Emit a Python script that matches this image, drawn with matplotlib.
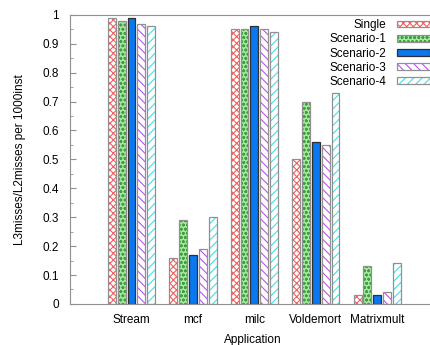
import matplotlib.pyplot as plt
import numpy as np
from matplotlib.ticker import MultipleLocator

plt.rcParams["font.family"] = ["Liberation Sans", "DejaVu Sans"]
plt.rcParams["hatch.linewidth"] = 0.8

apps = ["Stream", "mcf", "milc", "Voldemort", "Matrixmult"]
single = [0.99, 0.16, 0.95, 0.50, 0.03]
scen1 = [0.98, 0.29, 0.95, 0.70, 0.13]
scen2 = [0.99, 0.17, 0.96, 0.56, 0.03]
scen3 = [0.97, 0.19, 0.95, 0.55, 0.04]
scen4 = [0.96, 0.30, 0.94, 0.73, 0.14]

series = [
    ("Single", single, "white", "#f06060", "xxxxx"),
    ("Scenario-1", scen1, "#a8e8a0", "#40a040", "oooo"),
    ("Scenario-2", scen2, "#0a78f0", "#0a78f0", None),
    ("Scenario-3", scen3, "white", "#c050f0", "\\\\\\\\"),
    ("Scenario-4", scen4, "white", "#40e0e8", "////"),
]

fig = plt.figure(figsize=(4.3, 3.45), dpi=100)
ax = fig.add_axes([0.163, 0.119, 0.85, 0.838])

x = np.arange(len(apps))
w = 0.16
handles = []
for i, (name, vals, fc, hc, hatch) in enumerate(series):
    pos = x + (i - 2) * w
    edge = "#303030" if name == "Scenario-2" else "#909090"
    ax.bar(pos, vals, width=w * 0.8, color=fc, edgecolor=hc, hatch=hatch, linewidth=0)
    ax.bar(pos, vals, width=w * 0.8, fill=False, edgecolor=edge, linewidth=0.9)
    h1 = plt.Rectangle((0, 0), 1, 1, facecolor=fc, edgecolor=hc, hatch=hatch, linewidth=0)
    h2 = plt.Rectangle((0, 0), 1, 1, fill=False, edgecolor=edge, linewidth=0.9)
    handles.append((h1, h2))

leg = ax.legend(handles, [s[0] for s in series], loc="upper right", frameon=False,
                markerfirst=False, fontsize=8.5, handlelength=2.8, handleheight=0.5,
                labelspacing=0.18, bbox_to_anchor=(1.0, 1.005), borderaxespad=0.1,
                handletextpad=0.9)
for t in leg.get_texts():
    t.set_ha("right")
leg._legend_box.align = "right"

ax.set_xlim(-1.0, 4.95)
ax.set_ylim(0, 1)
ax.set_xticks(x)
ax.set_xticklabels(apps, fontsize=8.5)
ax.tick_params(axis="x", length=0, pad=7)
ax.yaxis.set_minor_locator(MultipleLocator(0.05))
ax.set_yticks(np.arange(0, 1.01, 0.1))
ax.set_yticklabels(["0", "0.1", "0.2", "0.3", "0.4", "0.5", "0.6", "0.7", "0.8", "0.9", "1"], fontsize=8.5)
ax.tick_params(axis="y", which="both", direction="in", color="#909090", pad=8)
ax.tick_params(axis="y", which="major", length=4)
ax.tick_params(axis="y", which="minor", length=2)
for s in ["left", "bottom", "top"]:
    ax.spines[s].set_color("#909090")
ax.spines["right"].set_visible(False)

ax.set_xlabel("Application", fontsize=8.5, labelpad=6)
ax.set_ylabel("L3misses/L2misses per 1000inst", fontsize=8.5, labelpad=12)

fig.savefig("out.png", dpi=100)
